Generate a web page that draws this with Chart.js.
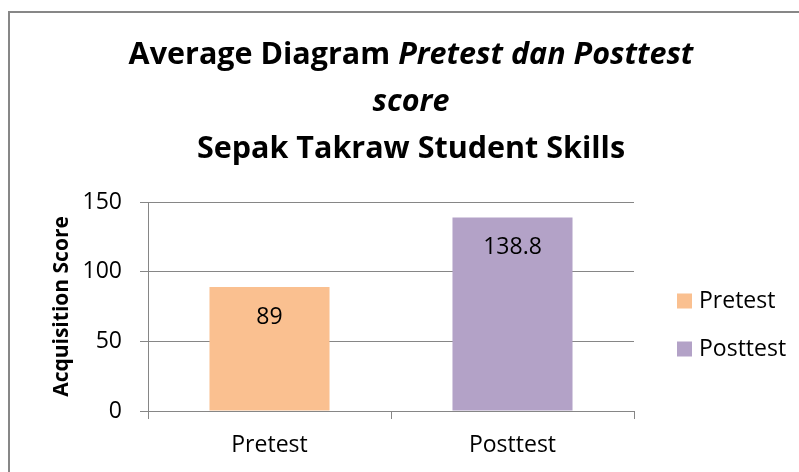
<!DOCTYPE html>
<html>
<head>
<meta charset="utf-8">
<script src="https://cdn.jsdelivr.net/npm/chart.js@4"></script>
<style>
  html, body { margin: 0; padding: 0; background: #fff; overflow: hidden; }
  #frame {
    position: absolute; left: 8px; top: 11px; width: 900px; height: 600px;
    border-left: 2px solid #878787; border-top: 2px solid #878787;
  }
  #wrap { position: absolute; left: 0; top: 0; width: 799px; height: 472px; }
</style>
</head>
<body>
<div id="frame"></div>
<div id="wrap"><canvas id="chart"></canvas></div>
<script>
const categories = ["Pretest", "Posttest"];
const averageScores = [89, 138.8];
const barColors = ["#FAC090", "#B3A2C7"];
const yTicks = [0, 50, 100, 150];
const titleLines = [
  [{ text: "Average Diagram ", italic: false }, { text: "Pretest dan Posttest", italic: true }],
  [{ text: "score", italic: true }],
  [{ text: "Sepak Takraw Student Skills", italic: false }]
];

const FONT = "'Open Sans', sans-serif";
const GRID = "#868686";

// title with italic runs, the built-in title can't mix styles
const mixedTitle = {
  id: "mixedTitle",
  afterDraw(chart) {
    const ctx = chart.ctx;
    const baselines = [64, 111, 158];
    ctx.save();
    ctx.fillStyle = "#000";
    ctx.textAlign = "left";
    ctx.textBaseline = "alphabetic";
    titleLines.forEach((runs, i) => {
      const fonts = runs.map(run => `${run.italic ? "italic " : ""}bold 30.5px ${FONT}`);
      const widths = runs.map((run, j) => {
        ctx.font = fonts[j];
        return ctx.measureText(run.text).width;
      });
      let x = 411 - widths.reduce((sum, w) => sum + w, 0) / 2;
      runs.forEach((run, j) => {
        ctx.font = fonts[j];
        ctx.fillText(run.text, x, baselines[i]);
        x += widths[j];
      });
    });
    ctx.restore();
  }
};

const sideLegend = {
  id: "sideLegend",
  afterDraw(chart) {
    const { ctx, chartArea } = chart;
    const x = chartArea.right + 43;
    ctx.save();
    ctx.font = `23px ${FONT}`;
    ctx.textAlign = "left";
    ctx.textBaseline = "middle";
    categories.forEach((label, i) => {
      const y = 301 + i * 48;
      ctx.fillStyle = barColors[i];
      ctx.fillRect(x, y - 7.5, 15, 15);
      ctx.fillStyle = "#000";
      ctx.fillText(label, x + 22, y);
    });
    ctx.restore();
  }
};

const valueLabels = {
  id: "valueLabels",
  afterDatasetsDraw(chart) {
    const ctx = chart.ctx;
    ctx.save();
    ctx.font = `23px ${FONT}`;
    ctx.fillStyle = "#000";
    ctx.textAlign = "center";
    ctx.textBaseline = "middle";
    chart.getDatasetMeta(0).data.forEach((bar, i) => {
      ctx.fillText(String(averageScores[i]), bar.x, bar.y + 30);
    });
    ctx.restore();
  }
};

new Chart(document.querySelector("#chart"), {
  type: "bar",
  data: {
    labels: categories,
    datasets: [{
      data: averageScores,
      backgroundColor: barColors,
      barPercentage: 0.494,
      categoryPercentage: 1
    }]
  },
  options: {
    responsive: true,
    maintainAspectRatio: false,
    animation: false,
    layout: { padding: { left: 45, top: 202, right: 165, bottom: 0 } },
    plugins: {
      legend: { display: false },
      tooltip: { enabled: false }
    },
    scales: {
      x: {
        grid: { drawOnChartArea: false, color: GRID, tickLength: 8 },
        border: { color: GRID },
        ticks: { color: "#000", font: { family: FONT, size: 23 }, padding: 13 },
        afterFit(scale) { scale.height = 61; }
      },
      y: {
        min: 0,
        max: 150,
        afterBuildTicks(scale) { scale.ticks = yTicks.map(value => ({ value })); },
        ticks: { color: "#000", font: { family: FONT, size: 23 }, padding: 18 },
        grid: { color: GRID, tickLength: 8 },
        border: { color: GRID },
        title: {
          display: true,
          text: "Acquisition Score",
          color: "#000",
          font: { family: FONT, size: 21, weight: "bold" },
          padding: { top: 4, bottom: 0 }
        },
        afterFit(scale) { scale.width = 103; }
      }
    }
  },
  plugins: [mixedTitle, sideLegend, valueLabels]
});
</script>
</body>
</html>
